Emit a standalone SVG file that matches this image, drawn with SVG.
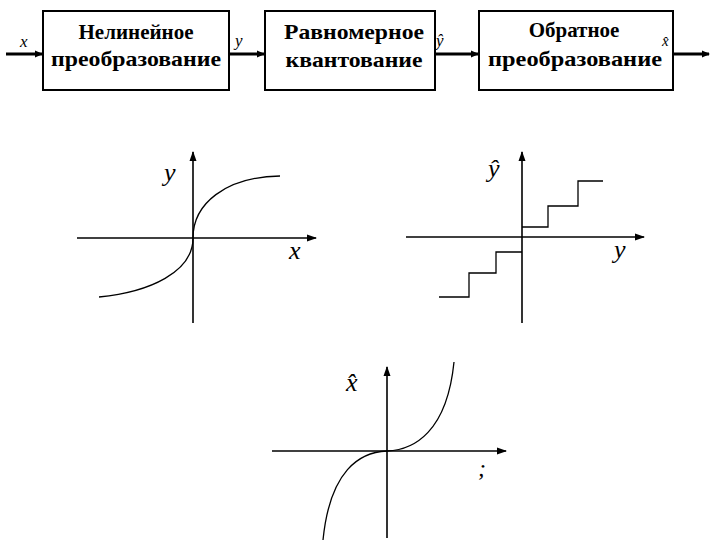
<svg xmlns="http://www.w3.org/2000/svg" width="710" height="542" viewBox="0 0 710 542">
<style>
.box{fill:#fff;stroke:#000;stroke-width:2}
.bt{font-family:"Liberation Serif","Times New Roman",serif;font-size:21px;font-weight:bold;text-anchor:middle;fill:#000}
.lbl{font-family:"Liberation Serif","Times New Roman",serif;font-style:italic;fill:#000}
.flow{stroke:#000;stroke-width:3;fill:none;marker-end:url(#ah)}
.axis{stroke:#000;stroke-width:1.6;fill:none;marker-end:url(#ax)}
.curve{stroke:#000;stroke-width:1.3;fill:none}
</style>
<defs>
<marker id="ah" markerWidth="8" markerHeight="8" refX="7" refY="4" orient="auto" markerUnits="userSpaceOnUse"><path d="M0,0.5 L8,4 L0,7.5 Z" fill="#000"/></marker>
<marker id="ax" markerWidth="10" markerHeight="8" refX="9" refY="4" orient="auto" markerUnits="userSpaceOnUse"><path d="M0,0.5 L10,4 L0,7.5 Z" fill="#000"/></marker>
</defs>
<rect width="710" height="542" fill="#fff"/>
<g id="connectors">
<line class="flow" x1="6" y1="54" x2="42" y2="54"/>
<line class="flow" x1="229" y1="54" x2="264" y2="54"/>
<line class="flow" x1="435" y1="54" x2="478" y2="54"/>
<line class="flow" x1="673" y1="54" x2="709" y2="54"/>
</g>
<g id="node-nonlinear">
<rect class="box" x="43" y="11" width="186" height="79"/>
<text class="bt" x="136" y="39">Нелинейное</text>
<text class="bt" x="136" y="66" textLength="170" lengthAdjust="spacingAndGlyphs">преобразование</text>
</g>
<g id="node-uniform">
<rect class="box" x="265" y="11" width="170" height="79"/>
<text class="bt" x="354" y="39" textLength="140" lengthAdjust="spacingAndGlyphs">Равномерное</text>
<text class="bt" x="354" y="67" textLength="137" lengthAdjust="spacingAndGlyphs">квантование</text>
</g>
<g id="node-inverse">
<rect class="box" x="479" y="11" width="194" height="79"/>
<text class="bt" x="574" y="37">Обратное</text>
<text class="bt" x="575" y="66" textLength="174" lengthAdjust="spacingAndGlyphs">преобразование</text>
</g>
<g id="flow-labels">
<text class="lbl" x="20" y="47" font-size="17">x</text>
<text class="lbl" x="235" y="46" font-size="17">y</text>
<text class="lbl" x="436" y="46" font-size="17">ŷ</text>
<text class="lbl" x="662" y="46" font-size="15">x̂</text>
</g>
<g id="graph-nonlinear">
<line class="axis" x1="77" y1="238" x2="316" y2="238"/>
<line class="axis" x1="193" y1="323" x2="193" y2="152"/>
<path class="curve" d="M99,297 C150,292 193,272 193,238 C193,204 225,177 280,176"/>
<text class="lbl" x="164" y="181" font-size="26">y</text>
<text class="lbl" x="289" y="259" font-size="26">x</text>
</g>
<g id="graph-quantizer">
<line class="axis" x1="406" y1="237" x2="644" y2="237"/>
<line class="axis" x1="522" y1="323" x2="522" y2="152"/>
<path class="curve" d="M439,297 H469 V273 H496 V252 H522 M522,227 H548 V206 H578 V181 H603" stroke-width="1.6"/>
<text class="lbl" x="488" y="177" font-size="26">ŷ</text>
<text class="lbl" x="614" y="258" font-size="26">y</text>
</g>
<g id="graph-inverse">
<line class="axis" x1="272" y1="451" x2="506" y2="451"/>
<line class="axis" x1="387" y1="538" x2="387" y2="367"/>
<path class="curve" d="M323,540 C330,470 360,452 387,451 C414,450 447,432 454,362"/>
<text class="lbl" x="346" y="391" font-size="26">x̂</text>
<text class="lbl" x="478" y="476" font-size="24">;</text>
</g>
</svg>
